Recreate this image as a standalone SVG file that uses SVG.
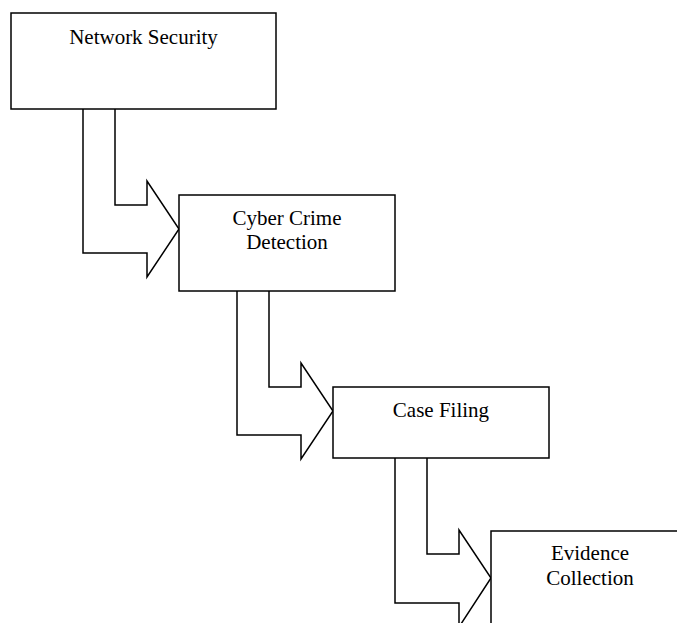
<svg xmlns="http://www.w3.org/2000/svg" width="677" height="623" viewBox="0 0 677 623">
<style>
.box{fill:#fff;stroke:#000;stroke-width:1.5}
.arr{fill:#fff;stroke:#000;stroke-width:1.5;stroke-linejoin:miter}
.t{font-family:"Liberation Serif","Times New Roman",serif;font-size:21px;fill:#000;text-anchor:middle}
</style>
<rect width="677" height="623" fill="#fff"/>
<g id="connectors">
<path class="arr" d="M83,109 L83,253 L147,253 L147,277 L179,229 L147,181 L147,205 L115,205 L115,109"/>
<path class="arr" d="M237,291 L237,435 L301,435 L301,459 L333,411 L301,363 L301,387 L269,387 L269,291"/>
<path class="arr" d="M395,458 L395,603 L459,603 L459,627 L491,578 L459,530 L459,554 L427,554 L427,458"/>
</g>
<g id="network-security">
<rect class="box" x="11" y="13" width="265" height="96"/>
<text class="t" x="143.5" y="44">Network Security</text>
</g>
<g id="cyber-crime-detection">
<rect class="box" x="179" y="195" width="216" height="96"/>
<text class="t" x="287" y="225">Cyber Crime</text>
<text class="t" x="287" y="249">Detection</text>
</g>
<g id="case-filing">
<rect class="box" x="333" y="387" width="216" height="71"/>
<text class="t" x="441" y="417">Case Filing</text>
</g>
<g id="evidence-collection">
<rect class="box" x="491" y="531" width="198" height="120"/>
<text class="t" x="590" y="560">Evidence</text>
<text class="t" x="590" y="585">Collection</text>
</g>
</svg>
